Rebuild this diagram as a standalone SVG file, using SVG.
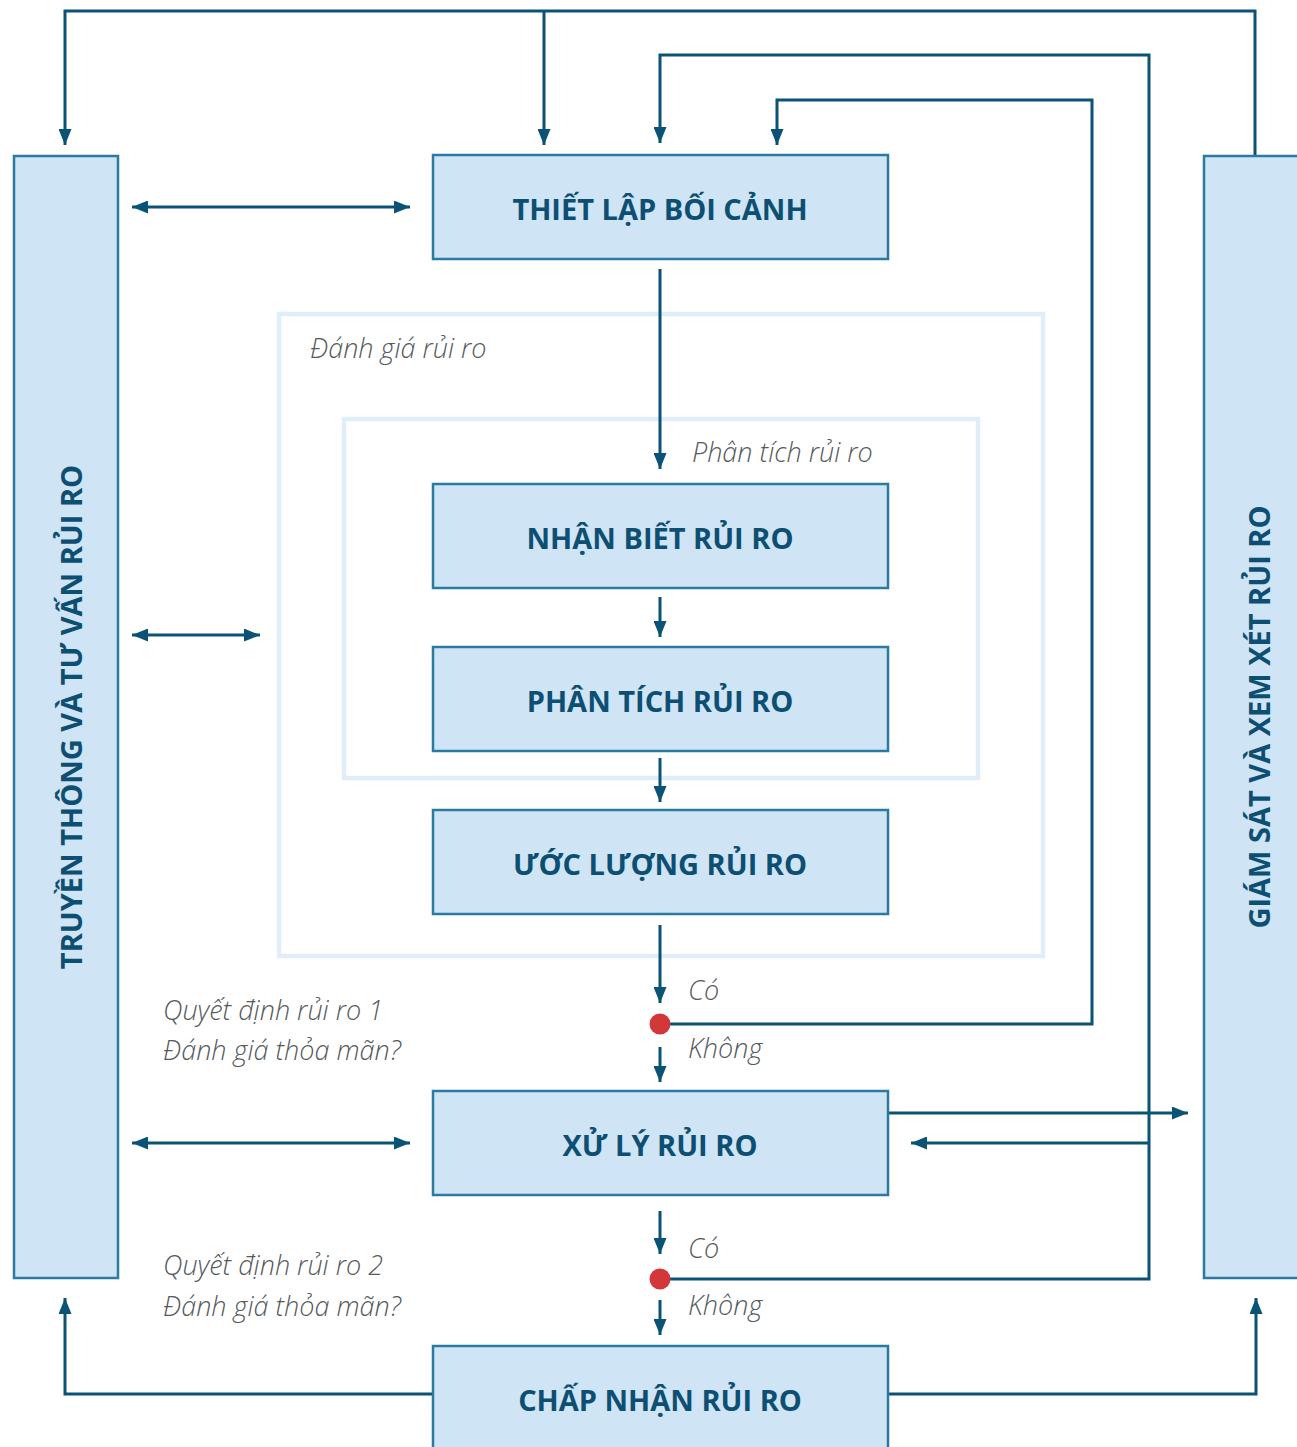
<svg xmlns="http://www.w3.org/2000/svg" width="1297" height="1447" viewBox="0 0 1297 1447">
<defs>
<style>
.box{fill:#cfe4f4;stroke:#2a7aa2;stroke-width:2.5}
.cont{fill:none;stroke:#e1eef9;stroke-width:4.5}
.ln{fill:none;stroke:#0a5276;stroke-width:3}
.t{font-family:"Open Sans","Noto Sans",sans-serif;font-weight:700;font-size:29px;fill:#0d4f73;text-anchor:middle}
.lb{font-family:"Open Sans","Noto Sans",sans-serif;font-style:italic;font-weight:300;font-size:27px;fill:#555a5e}
.dot{fill:#d2373a}
</style>
<marker id="ah" viewBox="0 0 16 13" refX="16" refY="6.5" markerWidth="16" markerHeight="13" markerUnits="userSpaceOnUse" orient="auto-start-reverse">
<path d="M0,0 L16,6.5 L0,13 z" fill="#0a5276"/>
</marker>
</defs>
<rect width="1297" height="1447" fill="#ffffff"/>

<g id="containers">
<rect id="danh-gia" class="cont" x="279" y="314" width="764" height="642"/>
<rect id="phan-tich-container" class="cont" x="344" y="419" width="634" height="359"/>
<text class="lb" x="310" y="358">Đánh giá rủi ro</text>
<text class="lb" x="692" y="462">Phân tích rủi ro</text>
</g>

<g id="connectors">
<path class="ln" d="M65,145 L65,11 L1255,11 L1255,155" marker-start="url(#ah)"/>
<path class="ln" d="M544,11 L544,145" marker-end="url(#ah)"/>
<path class="ln" d="M660,1279 L1149,1279 L1149,55 L660,55 L660,143" marker-end="url(#ah)"/>
<path class="ln" d="M1149,1143 L911,1143" marker-end="url(#ah)"/>
<path class="ln" d="M660,1024 L1092,1024 L1092,100 L777,100 L777,145" marker-end="url(#ah)"/>
<path class="ln" d="M132,207 L410,207" marker-start="url(#ah)" marker-end="url(#ah)"/>
<path class="ln" d="M132,635 L260,635" marker-start="url(#ah)" marker-end="url(#ah)"/>
<path class="ln" d="M132,1143 L410,1143" marker-start="url(#ah)" marker-end="url(#ah)"/>
<path class="ln" d="M660,269 L660,469" marker-end="url(#ah)"/>
<path class="ln" d="M660,597 L660,637" marker-end="url(#ah)"/>
<path class="ln" d="M660,758 L660,802" marker-end="url(#ah)"/>
<path class="ln" d="M660,925 L660,1003" marker-end="url(#ah)"/>
<path class="ln" d="M660,1047 L660,1082" marker-end="url(#ah)"/>
<path class="ln" d="M660,1211 L660,1254" marker-end="url(#ah)"/>
<path class="ln" d="M660,1300 L660,1335" marker-end="url(#ah)"/>
<path class="ln" d="M888,1113 L1188,1113" marker-end="url(#ah)"/>
<path class="ln" d="M433,1394 L65,1394 L65,1298" marker-end="url(#ah)"/>
<path class="ln" d="M888,1394 L1256,1394 L1256,1298" marker-end="url(#ah)"/>
</g>

<g id="node-truyen-thong">
<rect class="box" x="14" y="156" width="104" height="1122"/>
<text class="t" transform="translate(82,717) rotate(-90)">TRUYỀN THÔNG VÀ TƯ VẤN RỦI RO</text>
</g>
<g id="node-giam-sat">
<rect class="box" x="1204" y="156" width="100" height="1122"/>
<text class="t" transform="translate(1270,717) rotate(-90)">GIÁM SÁT VÀ XEM XÉT RỦI RO</text>
</g>
<g id="node-thiet-lap">
<rect class="box" x="433" y="155" width="455" height="104"/>
<text class="t" x="660" y="220">THIẾT LẬP BỐI CẢNH</text>
</g>
<g id="node-nhan-biet">
<rect class="box" x="433" y="484" width="455" height="104"/>
<text class="t" x="660" y="549">NHẬN BIẾT RỦI RO</text>
</g>
<g id="node-phan-tich">
<rect class="box" x="433" y="647" width="455" height="104"/>
<text class="t" x="660" y="712">PHÂN TÍCH RỦI RO</text>
</g>
<g id="node-uoc-luong">
<rect class="box" x="433" y="810" width="455" height="104"/>
<text class="t" x="660" y="875">ƯỚC LƯỢNG RỦI RO</text>
</g>
<g id="node-xu-ly">
<rect class="box" x="433" y="1091" width="455" height="104"/>
<text class="t" x="660" y="1156">XỬ LÝ RỦI RO</text>
</g>
<g id="node-chap-nhan">
<rect class="box" x="433" y="1346" width="455" height="110"/>
<text class="t" x="660" y="1411">CHẤP NHẬN RỦI RO</text>
</g>

<g id="decision-1">
<circle class="dot" cx="660" cy="1024" r="10.5"/>
<text class="lb" x="688" y="1000">Có</text>
<text class="lb" x="688" y="1058">Không</text>
<text class="lb" x="163" y="1020">Quyết định rủi ro 1</text>
<text class="lb" x="163" y="1060">Đánh giá thỏa mãn?</text>
</g>
<g id="decision-2">
<circle class="dot" cx="660" cy="1279" r="10.5"/>
<text class="lb" x="688" y="1258">Có</text>
<text class="lb" x="688" y="1315">Không</text>
<text class="lb" x="163" y="1275">Quyết định rủi ro 2</text>
<text class="lb" x="163" y="1316">Đánh giá thỏa mãn?</text>
</g>
</svg>
